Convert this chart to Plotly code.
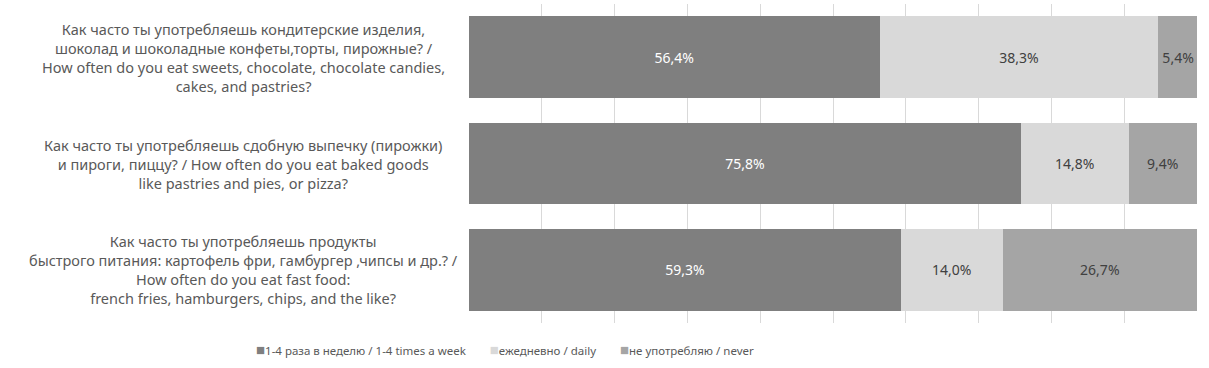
import plotly.graph_objects as go

categories = [
    "Как часто ты употребляешь кондитерские изделия,<br>шоколад и шоколадные конфеты,торты, пирожные? /<br>How often do you eat sweets, chocolate, chocolate candies,<br>cakes, and pastries?",
    "Как часто ты употребляешь сдобную выпечку (пирожки)<br>и пироги, пиццу? / How often do you eat baked goods<br>like pastries and pies, or pizza?",
    "Как часто ты употребляешь продукты<br>быстрого питания: картофель фри, гамбургер ,чипсы и др.? /<br>How often do you eat fast food:<br>french fries, hamburgers, chips, and the like?",
]
cat_ids = ["q1", "q2", "q3"]
series_names = ["1-4 раза в неделю / 1-4 times a week", "ежедневно / daily", "не употребляю / never"]
weekly = [56.4, 75.8, 59.3]
daily = [38.3, 14.8, 14.0]
never = [5.4, 9.4, 26.7]

colors = ["#7f7f7f", "#d9d9d9", "#a5a5a5"]
text_colors = ["#ffffff", "#404040", "#404040"]

fig = go.Figure()
for name, vals, c, tc in zip(series_names, [weekly, daily, never], colors, text_colors):
    fig.add_trace(go.Bar(
        y=cat_ids, x=vals, orientation="h", name=name,
        marker=dict(color=c, line=dict(width=0)),
        text=[f"{v:.1f}%".replace(".", ",") for v in vals],
        textposition="inside", insidetextanchor="middle",
        textfont=dict(color=tc, size=14, family="Noto Sans"),
        hoverinfo="skip", showlegend=False,
    ))

for cid, lab in zip(cat_ids, categories):
    fig.add_annotation(x=-0.31, xref="paper", y=cid, yref="y", text=lab,
                       showarrow=False, xanchor="center", yanchor="middle", align="center",
                       font=dict(size=14.5, color="#595959", family="Noto Sans"))

# legend row built from the series names and colours
legend_parts = []
for name, c in zip(series_names, colors):
    legend_parts.append(f"<span style='color:{c};font-size:15px'>■</span>{name}")
legend_text = "&nbsp;&nbsp;&nbsp;&nbsp;&nbsp;&nbsp;&nbsp;&nbsp;".join(legend_parts)
fig.add_annotation(x=0.05, xref="paper", y=-0.08, yref="paper", text=legend_text,
                   showarrow=False, xanchor="center", yanchor="middle",
                   font=dict(size=11.5, color="#595959", family="Noto Sans"))

fig.update_layout(
    barmode="stack", bargap=0.23,
    width=1209, height=368,
    margin=dict(l=469, r=12, t=4, b=45),
    plot_bgcolor="white", paper_bgcolor="white",
    font=dict(family="Noto Sans", color="#595959", size=13),
    showlegend=False,
    xaxis=dict(range=[0, 100], dtick=10, showgrid=True, gridcolor="#d9d9d9", gridwidth=1,
               showticklabels=False, zeroline=False, showline=False, fixedrange=True),
    yaxis=dict(categoryorder="array", categoryarray=cat_ids[::-1], showticklabels=False,
               showgrid=False, zeroline=False),
)
fig.write_html("out.html", config={"displayModeBar": False},
               post_script="document.body.style.margin='0';")
